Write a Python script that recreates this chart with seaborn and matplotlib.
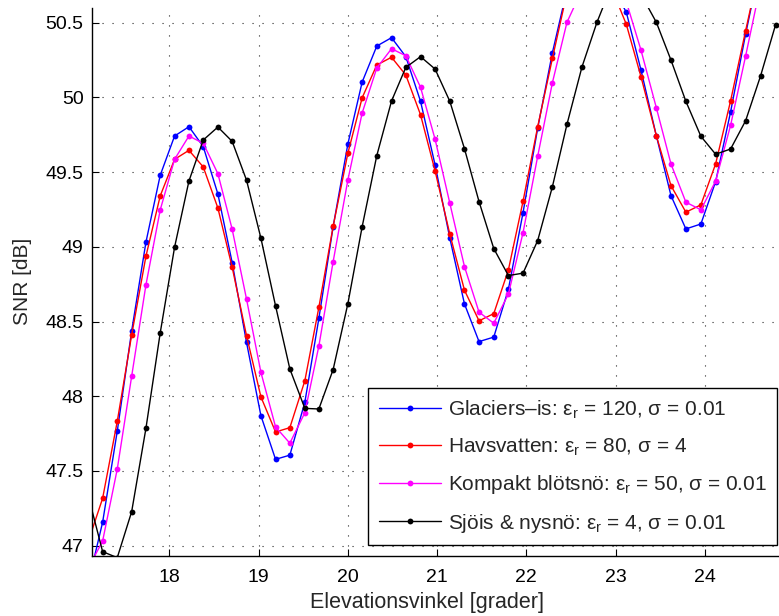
import numpy as np
import pandas as pd
import matplotlib
matplotlib.use("Agg")
import matplotlib.pyplot as plt
import seaborn as sns

# ---- data ----
elevation = [17.093, 17.254, 17.418, 17.579, 17.739, 17.899, 18.060, 18.221, 18.381, 18.545,
             18.705, 18.866, 19.027, 19.191, 19.351, 19.519, 19.676, 19.836, 20.001, 20.161,
             20.325, 20.490, 20.650, 20.815, 20.978, 21.143, 21.307, 21.470, 21.635, 21.799,
             21.963, 22.127, 22.292, 22.455, 22.623, 22.791, 22.956, 23.120, 23.284, 23.456,
             23.620, 23.787, 23.955, 24.120, 24.288, 24.456, 24.623, 24.791]

snr_glacier = [46.75, 47.157, 47.767, 48.436, 49.031, 49.479, 49.742, 49.804, 49.671, 49.354,
               48.895, 48.36, 47.87, 47.578, 47.606, 47.96, 48.521, 49.135, 49.689, 50.103,
               50.344, 50.40, 50.273, 49.974, 49.548, 49.058, 48.618, 48.366, 48.396, 48.716,
               49.229, 49.794, 50.30, 50.72, 50.88, 50.90, 50.75, 50.57, 50.184, 49.744,
               49.343, 49.12, 49.153, 49.436, 49.904, 50.424, 50.90, 51.25]

snr_sea = [47.028, 47.317, 47.832, 48.41, 48.937, 49.341, 49.586, 49.646, 49.535, 49.26,
           48.864, 48.405, 47.996, 47.761, 47.79, 48.104, 48.595, 49.138, 49.627, 49.998,
           50.217, 50.269, 50.15, 49.884, 49.508, 49.085, 48.71, 48.505, 48.553, 48.846,
           49.305, 49.804, 50.262, 50.70, 50.88, 50.90, 50.73, 50.489, 50.139, 49.744,
           49.41, 49.232, 49.281, 49.555, 49.978, 50.446, 50.90, 51.2]

snr_wetsnow = [46.85, 47.031, 47.513, 48.133, 48.745, 49.247, 49.586, 49.742, 49.693, 49.49,
               49.118, 48.65, 48.16, 47.795, 47.686, 47.89, 48.336, 48.901, 49.448, 49.896,
               50.197, 50.326, 50.279, 50.068, 49.72, 49.292, 48.868, 48.563, 48.489, 48.684,
               49.095, 49.606, 50.099, 50.503, 50.72, 50.80, 50.80, 50.64, 50.317, 49.931,
               49.555, 49.299, 49.248, 49.44, 49.814, 50.277, 50.75, 51.1]

snr_seaice = [47.334, 46.96, 46.92, 47.227, 47.785, 48.424, 48.998, 49.441, 49.715, 49.802,
              49.706, 49.446, 49.058, 48.605, 48.183, 47.919, 47.915, 48.179, 48.62, 49.135,
              49.611, 49.976, 50.201, 50.273, 50.19, 49.974, 49.657, 49.303, 48.989, 48.808,
              48.824, 49.042, 49.403, 49.82, 50.204, 50.503, 50.75, 50.86, 50.69, 50.503,
              50.25, 49.974, 49.74, 49.62, 49.655, 49.844, 50.143, 50.485]

series_labels = [
    "Glaciers\u2013is: \u03b5$_\\mathregular{r}$ = 120, \u03c3 = 0.01",
    "Havsvatten: \u03b5$_\\mathregular{r}$ = 80, \u03c3 = 4",
    "Kompakt bl\u00f6tsn\u00f6: \u03b5$_\\mathregular{r}$ = 50, \u03c3 = 0.01",
    "Sj\u00f6is & nysn\u00f6: \u03b5$_\\mathregular{r}$ = 4, \u03c3 = 0.01",
]
series_colors = ["#0000ff", "#ff0000", "#ff00ff", "#000000"]

x_ticks = [18, 19, 20, 21, 22, 23, 24]
y_ticks = [47, 47.5, 48, 48.5, 49, 49.5, 50, 50.5]
y_tick_labels = ["47", "47.5", "48", "48.5", "49", "49.5", "50", "50.5"]

# ---- build long table ----
frames = []
for name, vals in zip(series_labels, [snr_glacier, snr_sea, snr_wetsnow, snr_seaice]):
    frames.append(pd.DataFrame({"elev": elevation, "snr": vals, "series": name}))
df = pd.concat(frames, ignore_index=True)

sns.set_theme(style="white")
plt.rcParams["font.family"] = ["Liberation Sans", "DejaVu Sans"]
plt.rcParams["mathtext.fontset"] = "custom"
plt.rcParams["mathtext.rm"] = "Liberation Sans"
plt.rcParams["mathtext.it"] = "Liberation Sans:italic"

fig = plt.figure(figsize=(7.79, 6.16), dpi=100)
ax = fig.add_axes([92 / 779, 60 / 616, 687 / 779, 548.5 / 616])

sns.lineplot(data=df, x="elev", y="snr", hue="series", hue_order=series_labels,
             palette=series_colors, marker="o", markersize=4.2, markeredgewidth=0,
             linewidth=1.0, estimator=None, sort=False, legend=False, ax=ax)

ax.set_xlim(17.135, 24.83)
ax.set_ylim(46.931, 50.602)
ax.set_xticks(x_ticks)
ax.set_xticklabels([str(t) for t in x_ticks])
ax.set_yticks(y_ticks)
ax.set_yticklabels(y_tick_labels)

ax.grid(True, color="0.15", linestyle=(0, (1, 8)), linewidth=0.8)
ax.tick_params(direction="in", length=5, width=0.8, labelsize=14, colors="black",
               bottom=True, left=True)
ax.tick_params(axis="x", pad=9)
ax.tick_params(axis="y", pad=6)
for side in ["top", "right"]:
    ax.spines[side].set_visible(False)
for side in ["left", "bottom"]:
    ax.spines[side].set_color("black")
    ax.spines[side].set_linewidth(1.0)

ax.set_xlabel("Elevationsvinkel [grader]", fontsize=15.5)
ax.set_ylabel("SNR [dB]", fontsize=15)
ax.xaxis.set_label_coords((427.5 - 92) / 687, -0.066)
ax.yaxis.set_label_coords(-(92 - 32) / 687, 0.5)

handles = ax.get_lines()[:4]
leg = ax.legend(handles, series_labels, loc="lower right",
                bbox_to_anchor=(0.997, 0.02), fontsize=15, frameon=True,
                fancybox=False, framealpha=1, edgecolor="black",
                handlelength=3.0, handletextpad=0.3, labelspacing=0.74,
                borderpad=0.5, borderaxespad=0)
leg.get_frame().set_linewidth(1.0)

fig.savefig("out.png", dpi=100)
